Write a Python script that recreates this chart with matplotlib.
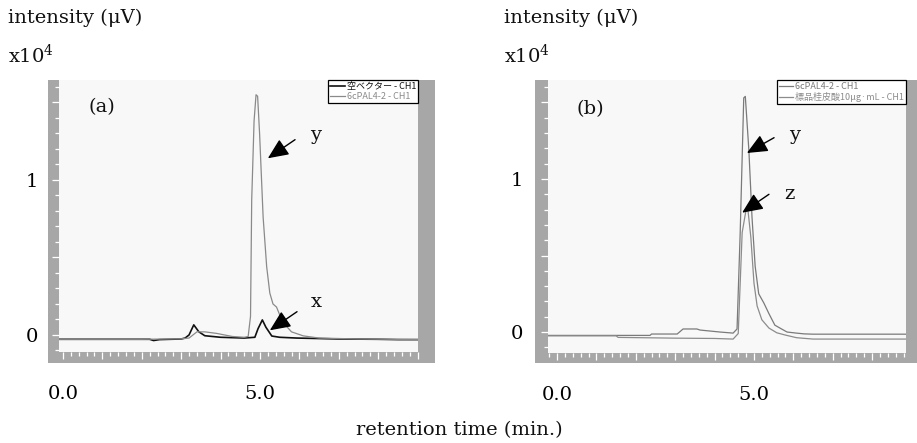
import matplotlib
matplotlib.use("Agg")
import matplotlib.pyplot as plt
from matplotlib.patches import Rectangle
from matplotlib.ticker import FixedLocator, FixedFormatter, MultipleLocator

# ---------------- data ----------------
# Panel (a)
a_vec_t = [-0.1, 1.0, 2.2, 2.3, 2.45, 3.0, 3.1, 3.2, 3.32, 3.45, 3.6, 4.0, 4.6, 4.87, 4.95, 5.06, 5.15, 5.3, 5.5, 5.93, 7.0, 8.0, 8.5, 9.05]
a_vec_v = [-0.028, -0.028, -0.028, -0.036, -0.03, -0.026, -0.02, 0.0, 0.065, 0.02, -0.005, -0.015, -0.02, -0.015, 0.04, 0.097, 0.05, -0.007, -0.015, -0.02, -0.026, -0.028, -0.03, -0.03]

a_pal_t = [-0.1, 1.0, 2.0, 3.0, 3.2, 3.4, 3.6, 3.9, 4.3, 4.6, 4.7, 4.76, 4.79, 4.85, 4.9, 4.94, 4.99, 5.08, 5.17, 5.25, 5.33, 5.42, 5.5, 5.64, 5.8, 6.1, 6.5, 7.5, 9.05]
a_pal_v = [-0.028, -0.028, -0.028, -0.025, -0.02, 0.02, 0.02, 0.01, -0.01, -0.015, -0.01, 0.12, 0.87, 1.38, 1.55, 1.54, 1.30, 0.76, 0.44, 0.27, 0.20, 0.18, 0.13, 0.065, 0.02, -0.006, -0.02, -0.026, -0.03]

# Panel (b)
b_pal_t = [-0.25, 1.0, 2.36, 2.4, 3.05, 3.2, 3.55, 3.63, 4.14, 4.47, 4.57, 4.65, 4.74, 4.78, 4.87, 4.95, 5.03, 5.12, 5.25, 5.38, 5.53, 5.7, 5.84, 6.08, 6.27, 6.5, 8.9]
b_pal_v = [-0.022, -0.022, -0.022, -0.013, -0.013, 0.02, 0.02, 0.013, 0.0, -0.007, 0.02, 0.65, 1.53, 1.54, 1.19, 0.75, 0.43, 0.25, 0.19, 0.12, 0.045, 0.02, 0.0, -0.007, -0.012, -0.014, -0.014]

b_std_t = [-0.25, 1.0, 1.5, 1.55, 3.0, 4.0, 4.47, 4.6, 4.7, 4.8, 4.85, 4.92, 5.0, 5.08, 5.2, 5.38, 5.58, 5.8, 6.08, 6.5, 7.5, 8.9]
b_std_v = [-0.025, -0.025, -0.025, -0.035, -0.04, -0.042, -0.046, -0.01, 0.65, 0.80, 0.79, 0.62, 0.32, 0.17, 0.08, 0.026, -0.005, -0.02, -0.037, -0.046, -0.046, -0.046]

x_major = [0, 1, 2, 3, 4, 5, 6, 7, 8, 9]
x_labels = ["0.0", "", "", "", "", "5.0", "", "", "", ""]
y_major = [0, 0.5, 1, 1.5]
y_labels = ["0", "", "1", ""]

leg_a = ["空ベクター - CH1", "6cPAL4-2 - CH1"]
leg_b = ["6cPAL4-2 - CH1", "標品桂皮酸10μg·mL - CH1"]

# ---------------- figure ----------------
W, H = 917, 443
fig = plt.figure(figsize=(W / 100, H / 100), dpi=100, facecolor="white")
SERIF = "DejaVu Serif"
CJK = ["Noto Sans CJK JP", "DejaVu Sans"]
FRAME = "#a7a7a7"
INNER = "#f8f8f8"


def fr(x0, y0, x1, y1):
    return [x0 / W, 1 - y1 / H, (x1 - x0) / W, (y1 - y0) / H]


def style_axes(ax, xlim, ylim, ypad):
    ax.set_facecolor(INNER)
    for s in ax.spines.values():
        s.set_visible(False)
    ax.set_xlim(*xlim)
    ax.set_ylim(*ylim)
    ax.xaxis.set_major_locator(FixedLocator(x_major))
    ax.xaxis.set_major_formatter(FixedFormatter(x_labels))
    ax.xaxis.set_minor_locator(MultipleLocator(0.2))
    ax.yaxis.set_major_locator(FixedLocator(y_major))
    ax.yaxis.set_major_formatter(FixedFormatter(y_labels))
    ax.yaxis.set_minor_locator(MultipleLocator(0.1))
    ax.tick_params(axis="both", which="both", color="white", direction="out", width=0.9)
    ax.tick_params(axis="both", which="major", length=5)
    ax.tick_params(axis="both", which="minor", length=3)
    ax.tick_params(axis="x", which="major", pad=19, labelsize=14)
    ax.tick_params(axis="y", which="major", pad=ypad, labelsize=14)
    for lab in ax.get_xticklabels() + ax.get_yticklabels():
        lab.set_fontfamily(SERIF)


# gray frames (behind the plot areas)
for x0, x1 in ((48, 435), (535, 917)):
    fig.add_artist(Rectangle((x0 / W, 1 - 363 / H), (x1 - x0) / W, 283 / H,
                             transform=fig.transFigure, facecolor=FRAME,
                             edgecolor="none", zorder=-5))

axa = fig.add_axes(fr(59, 80, 418, 352))
axb = fig.add_axes(fr(548, 80, 906, 353))
axa.set_zorder(1)
axb.set_zorder(1)

style_axes(axa, (-0.1, 9.01), (-0.11, 1.645), 10)
style_axes(axb, (-0.23, 8.86), (-0.137, 1.647), 13)

# series
axa.plot(a_vec_t, a_vec_v, color="#111111", lw=1.2, label=leg_a[0])
axa.plot(a_pal_t, a_pal_v, color="#8a8a8a", lw=0.9, label=leg_a[1])
axb.plot(b_pal_t, b_pal_v, color="#7a7a7a", lw=0.9, label=leg_b[0])
axb.plot(b_std_t, b_std_v, color="#8c8c8c", lw=0.9, label=leg_b[1])

for ax in (axa, axb):
    leg = ax.legend(loc="upper right", bbox_to_anchor=(1.0, 1.0), borderaxespad=0.0,
                    prop={"family": CJK, "size": 6.5}, frameon=True, fancybox=False,
                    edgecolor="black", facecolor="white", framealpha=1.0,
                    handlelength=1.6, handletextpad=0.25, labelspacing=0.1, borderpad=0.2,
                    labelcolor="linecolor")
    leg.get_frame().set_linewidth(0.9)

# panel labels and arrows
txt = dict(fontfamily=SERIF, fontsize=14, ha="center", va="center", color="#111111")
arw = dict(arrowstyle="-|>,head_length=0.9,head_width=0.4", color="black", lw=1.0,
           shrinkA=0, shrinkB=0, mutation_scale=14)

axa.text(0.99, 1.47, "(a)", **txt)
axa.text(6.4, 1.29, "y", **txt)
axa.text(6.42, 0.21, "x", **txt)
axa.annotate("", xy=(5.2, 1.14), xytext=(5.89, 1.26), arrowprops=arw)
axa.annotate("", xy=(5.25, 0.03), xytext=(5.94, 0.15), arrowprops=arw)

axb.text(0.84, 1.46, "(b)", **txt)
axb.text(6.02, 1.29, "y", **txt)
axb.text(5.91, 0.9, "z", **txt)
axb.annotate("", xy=(4.82, 1.17), xytext=(5.51, 1.27), arrowprops=arw)
axb.annotate("", xy=(4.70, 0.78), xytext=(5.38, 0.90), arrowprops=arw)

# axis titles
for x0 in (8, 504):
    fig.text(x0 / W, 1 - 18 / H, "intensity (μV)", fontfamily=SERIF, fontsize=14,
             ha="left", va="center", color="#111111")
    fig.text(x0 / W, 1 - 55 / H, "x10$^{4}$", fontfamily=SERIF, fontsize=14,
             ha="left", va="center", color="#111111", math_fontfamily="dejavuserif")
fig.text(459.5 / W, 1 - 430 / H, "retention time (min.)", fontfamily=SERIF, fontsize=14,
         ha="center", va="center", color="#111111")

fig.savefig("out.png", dpi=100, facecolor="white")
